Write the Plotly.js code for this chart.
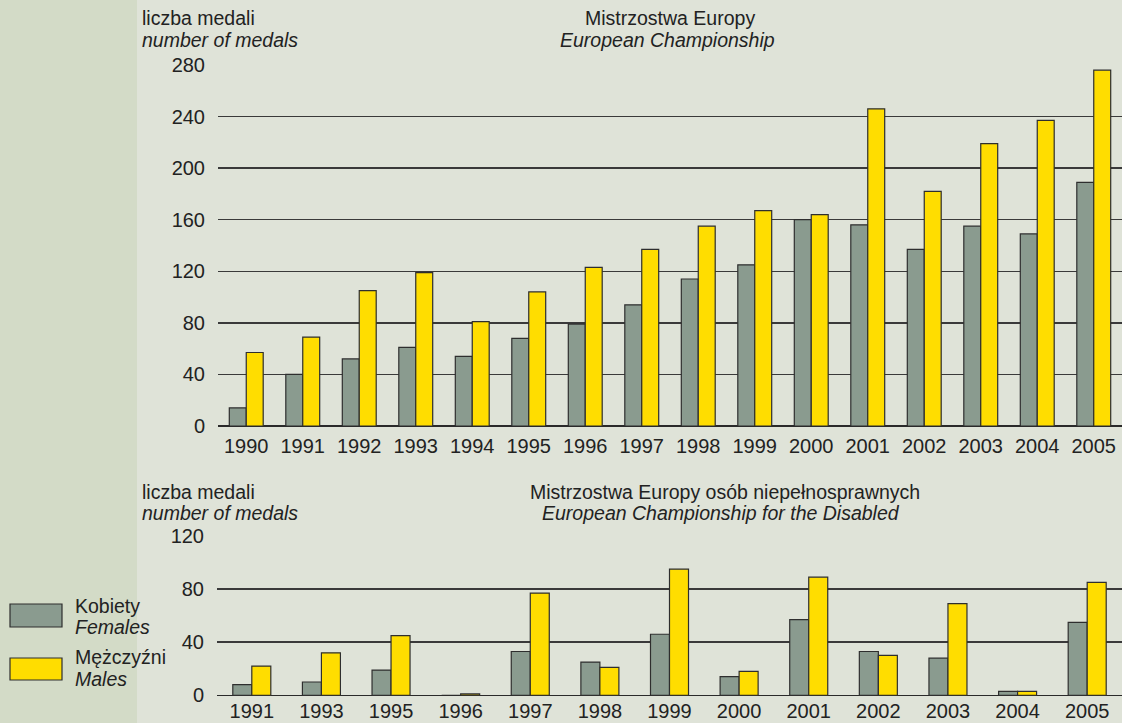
<!DOCTYPE html>
<html>
<head>
<meta charset="utf-8">
<script src="https://cdn.plot.ly/plotly-3.0.1.min.js"></script>
<style>html,body{margin:0;padding:0;background:#dfe3d8;}#chart{width:1122px;height:723px;}</style>
</head>
<body>
<div id="chart"></div>
<script>
// Top chart: European Championship
const yearsTop = ['1990','1991','1992','1993','1994','1995','1996','1997','1998','1999','2000','2001','2002','2003','2004','2005'];
const femalesTop = [14, 40, 52, 61, 54, 68, 79, 94, 114, 125, 160, 156, 137, 155, 149, 189];
const malesTop   = [57, 69, 105, 119, 81, 104, 123, 137, 155, 167, 164, 246, 182, 219, 237, 276];

// Bottom chart: European Championship for the Disabled
const yearsBottom = ['1991','1993','1995','1996','1997','1998','1999','2000','2001','2002','2003','2004','2005'];
const femalesBottom = [8, 10, 19, 0, 33, 25, 46, 14, 57, 33, 28, 3, 55];
const malesBottom   = [22, 32, 45, 1, 77, 21, 95, 18, 89, 30, 69, 3, 85];

const topTicks = [0, 40, 80, 120, 160, 200, 240, 280];
const bottomTicks = [0, 40, 80, 120];

const FEMALE = '#8a9b8f';
const MALE = '#ffdd00';
const OUTLINE = '#2e2e2e';
const FONT = 'Liberation Sans, Arial, sans-serif';
const W = 1122, H = 723;
const px = v => v / W;
const py = v => 1 - v / H;

const traces = [
  {type:'bar', x:yearsTop, y:femalesTop, xaxis:'x', yaxis:'y', name:'Kobiety', width:0.3, offset:-0.3,
   marker:{color:FEMALE, line:{color:OUTLINE, width:1.2}}, showlegend:false, hoverinfo:'x+y'},
  {type:'bar', x:yearsTop, y:malesTop, xaxis:'x', yaxis:'y', name:'Mężczyźni', width:0.3, offset:0,
   marker:{color:MALE, line:{color:OUTLINE, width:1.2}}, showlegend:false, hoverinfo:'x+y'},
  {type:'bar', x:yearsBottom, y:femalesBottom, xaxis:'x2', yaxis:'y2', name:'Kobiety', width:0.273, offset:-0.273,
   marker:{color:FEMALE, line:{color:OUTLINE, width:1.2}}, showlegend:false, hoverinfo:'x+y'},
  {type:'bar', x:yearsBottom, y:malesBottom, xaxis:'x2', yaxis:'y2', name:'Mężczyźni', width:0.273, offset:0,
   marker:{color:MALE, line:{color:OUTLINE, width:1.2}}, showlegend:false, hoverinfo:'x+y'}
];

const axisFont = {family:FONT, size:20, color:'#222'};
const gridStyle = {showgrid:true, gridcolor:'#3a3a3a', gridwidth:1.5, zeroline:true, zerolinecolor:'#2a2a2a', zerolinewidth:1.5};

const layout = {
  width:W, height:H,
  margin:{l:0, r:0, t:0, b:0},
  paper_bgcolor:'#dfe3d8',
  plot_bgcolor:'rgba(0,0,0,0)',
  font:{family:FONT, size:19.5, color:'#222'},
  xaxis:{type:'category', domain:[px(218), 1], anchor:'y', range:[-0.5, 15.5],
         showgrid:false, showline:false, ticks:'', tickfont:axisFont, ticklabelstandoff:6, fixedrange:true},
  yaxis:Object.assign({domain:[py(426), py(65)], anchor:'x', range:[0, 280], tickvals:topTicks,
         ticktext:topTicks.map(String), ticks:'', tickfont:axisFont, ticklabelstandoff:12, showline:false, fixedrange:true}, gridStyle),
  xaxis2:{type:'category', domain:[px(217), 1], anchor:'y2', range:[-0.5, 12.5],
         showgrid:false, showline:false, ticks:'', tickfont:axisFont, ticklabelstandoff:2, fixedrange:true},
  yaxis2:Object.assign({domain:[py(695.3), py(536)], anchor:'x2', range:[0, 120], tickvals:bottomTicks,
         ticktext:bottomTicks.map(String), ticks:'', tickfont:axisFont, ticklabelstandoff:12, showline:false, fixedrange:true}, gridStyle),
  shapes:[
    {type:'rect', xref:'paper', yref:'paper', x0:0, x1:px(137), y0:0, y1:1, fillcolor:'#d3dbc7', line:{width:0}, layer:'below'},
    {type:'rect', xref:'paper', yref:'paper', x0:px(10), x1:px(62), y0:py(627), y1:py(604), fillcolor:FEMALE, line:{color:OUTLINE, width:1.2}},
    {type:'rect', xref:'paper', yref:'paper', x0:px(10), x1:px(62), y0:py(680), y1:py(658), fillcolor:MALE, line:{color:OUTLINE, width:1.2}}
  ],
  annotations:[
    {text:'liczba medali', x:px(140), y:py(18), xanchor:'left', yanchor:'middle'},
    {text:'<i>number of medals</i>', x:px(140), y:py(40), xanchor:'left', yanchor:'middle'},
    {text:'Mistrzostwa Europy', x:px(670), y:py(18), xanchor:'center', yanchor:'middle'},
    {text:'<i>European Championship</i>', x:px(667), y:py(40), xanchor:'center', yanchor:'middle'},
    {text:'liczba medali', x:px(140), y:py(492), xanchor:'left', yanchor:'middle'},
    {text:'<i>number of medals</i>', x:px(140), y:py(513), xanchor:'left', yanchor:'middle'},
    {text:'Mistrzostwa Europy osób niepełnosprawnych', x:px(725), y:py(492), xanchor:'center', yanchor:'middle'},
    {text:'<i>European Championship for the Disabled</i>', x:px(721), y:py(513), xanchor:'center', yanchor:'middle'},
    {text:'Kobiety', x:px(73), y:py(606), xanchor:'left', yanchor:'middle'},
    {text:'<i>Females</i>', x:px(73), y:py(627), xanchor:'left', yanchor:'middle'},
    {text:'Mężczyźni', x:px(73), y:py(657), xanchor:'left', yanchor:'middle'},
    {text:'<i>Males</i>', x:px(73), y:py(679), xanchor:'left', yanchor:'middle'}
  ].map(a => Object.assign({xref:'paper', yref:'paper', showarrow:false, font:{family:FONT, size:19.5, color:'#222'}}, a))
};

Plotly.newPlot('chart', traces, layout, {displayModeBar:false, staticPlot:true});
</script>
</body>
</html>
